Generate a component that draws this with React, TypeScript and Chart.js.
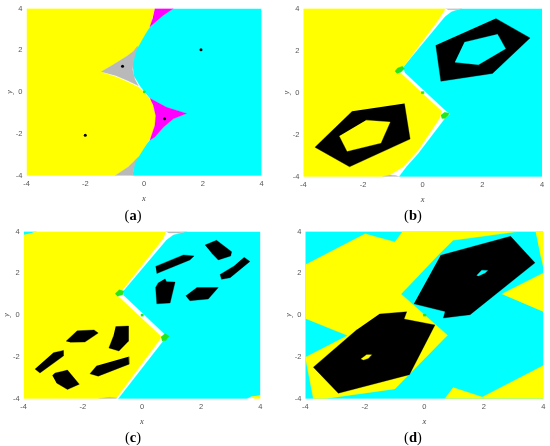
import React, { useEffect, useRef } from "react";
import { Chart, registerables } from "chart.js";

Chart.register(...registerables);

type P = [number, number];

const axisTicks = [-4, -2, 0, 2, 4];
const captions = ["a", "b", "c", "d"];
const fullSquare: P[] = [[-4, 4], [4, 4], [4, -4], [-4, -4]];

// Panel (a)
const aCyan: P[] = [[1, 4], [0.66, 3.68], [0.2, 3.13], [-0.14, 2.5], [-0.31, 1.95], [-0.39, 1.32], [-0.34, 0.77], [-0.14, 0.3], [0, 0.05], [0.2, -0.3], [0.77, -0.73], [1.45, -1.02], [1, -1.28], [0.66, -1.68], [0.37, -2.15], [0.2, -2.3], [-0.14, -2.86], [-0.31, -3.25], [-0.39, -4], [4, -4], [4, 4]];
const aYellow: P[] = [[-4, 4], [0.37, 4], [0.2, 3.13], [0.03, 2.74], [-0.19, 2.19], [-0.36, 1.95], [-0.59, 1.71], [-1.04, 1.32], [-1.46, 0.97], [-0.93, 0.72], [-0.53, 0.47], [-0.19, 0.24], [0, 0], [0.26, -0.43], [0.4, -1.13], [0.37, -1.6], [0.2, -2.23], [-0.19, -3.1], [-0.53, -3.57], [-0.99, -4], [-4, -4]];
const aGrayTop: P[] = [[-1.46, 0.97], [-1.04, 1.32], [-0.59, 1.71], [-0.36, 1.95], [-0.22, 2.2], [-0.36, 1.48], [-0.39, 1.08], [-0.31, 0.61], [-0.19, 0.3], [-0.53, 0.53], [-0.93, 0.77]];
const aGrayBottom: P[] = [[-0.99, -4], [-0.53, -3.57], [-0.19, -3.1], [-0.31, -3.4], [-0.39, -4]];
const aMagentaTop: P[] = [[0.37, 4], [1, 4], [0.66, 3.68], [0.2, 3.13], [0.29, 3.5]];
const aMagentaMid: P[] = [[0.2, -0.3], [0.77, -0.73], [1.45, -1.02], [1, -1.28], [0.66, -1.68], [0.37, -2.15], [0.2, -2.3], [0.37, -1.6], [0.4, -1.13], [0.32, -0.65]];
const aGreen: P[] = [[-0.03, 0.06], [0.04, 0.06], [0.04, -0.04], [-0.03, -0.04]];
const aDots: P[] = [[-0.73, 1.24], [1.94, 2.03], [0.7, -1.27], [-2, -2.07]];

// Panel (b)
const bCyan: P[] = [[1.31, 4], [0.97, 3.84], [0.75, 3.61], [-0.65, 1.2], [-0.59, 0.94], [0.75, -0.83], [0.92, -1.02], [0.75, -1.23], [-0.15, -2.91], [-0.54, -3.53], [-0.79, -4], [4, -4], [4, 4]];
const bYellow: P[] = [[-4, 4], [0.77, 4], [0.53, 3.46], [-0.65, 1.2], [-0.89, 1], [-0.7, 0.89], [0.64, -0.89], [0.58, -1.2], [-0.15, -2.75], [-0.65, -3.53], [-1.1, -3.92], [-1.35, -4], [-4, -4]];
const bGrayTop: P[] = [[0.77, 4], [1.31, 4], [1.15, 3.94], [0.85, 3.94]];
const bGrayBottom: P[] = [[-1.35, -4], [-1.1, -3.92], [-0.9, -3.94], [-0.79, -4]];
const bGreenTop: P[] = [[-0.93, 1.02], [-0.84, 1.17], [-0.68, 1.25], [-0.61, 1.13], [-0.73, 0.97], [-0.86, 0.91]];
const bGreenBottom: P[] = [[0.61, -1.08], [0.73, -0.94], [0.88, -0.97], [0.86, -1.08], [0.75, -1.23], [0.64, -1.23]];
const bGreenCentre: P[] = [[-0.05, 0.05], [0.04, 0.05], [0.04, -0.05], [-0.05, -0.05]];
const bBlackUpper: P[] = [[2.45, 3.53], [3.6, 2.6], [2.34, 0.91], [0.61, 0.54], [0.44, 2.25]];
const bHoleUpper: P[] = [[1.4, 2.4], [2.51, 2.77], [2.78, 2.09], [1.87, 1.33], [1.08, 1.44]];
const bBlackLower: P[] = [[-0.61, -0.52], [-0.42, -2.21], [-2.45, -3.53], [-3.61, -2.6], [-2.36, -0.89]];
const bHoleLower: P[] = [[-1.9, -1.31], [-1.09, -1.4], [-1.4, -2.4], [-2.53, -2.79], [-2.79, -2.06]];

// Panel (c)
const cCyan: P[] = [[1.51, 4], [1.06, 3.83], [0.83, 3.59], [-0.61, 1.18], [-0.61, 0.94], [0.72, -0.85], [0.89, -1.09], [0.72, -1.24], [-0.8, -4], [3.54, -4], [3.7, -3.9], [4, -3.85], [4, 4]];
const cCyanCorner: P[] = [[-4, 4], [-3.56, 4], [-3.78, 3.9], [-4, 3.83]];
const cYellow: P[] = [[-3.56, 4], [0.81, 4], [0.72, 3.67], [-0.63, 1.25], [-0.88, 0.99], [-0.77, 0.86], [0.64, -1.01], [0.61, -1.16], [-0.86, -3.97], [-1.48, -4], [-4, -4], [-4, 3.83], [-3.78, 3.9]];
const cYellowCorner: P[] = [[3.67, -3.91], [4, -3.85], [4, -4], [3.8, -4]];
const cGrayTop: P[] = [[0.81, 4], [1.51, 4], [1.25, 3.93], [0.9, 3.93]];
const cGrayBottom: P[] = [[-1.48, -4], [-1.1, -3.93], [-0.85, -3.97], [-0.92, -4]];
const cGreenTop: P[] = [[-0.91, 1.02], [-0.77, 1.21], [-0.61, 1.15], [-0.65, 0.97], [-0.83, 0.9]];
const cGreenBottom: P[] = [[0.64, -1.05], [0.78, -0.88], [0.92, -1.01], [0.81, -1.21], [0.68, -1.24]];
const cGreenCentre: P[] = [[-0.04, 0.05], [0.04, 0.05], [0.04, -0.05], [-0.04, -0.05]];
const cBlack1: P[] = [[0.46, 2.33], [1.4, 2.88], [1.76, 2.83], [1.62, 2.64], [0.83, 2.18], [0.5, 1.99]];
const cBlack2: P[] = [[2.13, 3.35], [2.52, 3.58], [3.03, 3.03], [3, 2.83], [2.58, 2.64], [2.36, 2.96]];
const cBlack3: P[] = [[3.45, 2.77], [3.65, 2.57], [2.98, 1.79], [2.69, 1.71], [2.64, 1.94], [3.09, 2.33]];
const cBlack4: P[] = [[0.78, 1.74], [0.83, 1.6], [1.12, 1.58], [0.95, 0.58], [0.5, 0.54], [0.46, 1.32], [0.55, 1.55]];
const cBlack5: P[] = [[1.85, 1.32], [2.58, 1.32], [2.24, 0.77], [1.62, 0.69], [1.48, 0.93]];
const cBlack6: P[] = [[-2.57, -1.25], [-2.19, -0.75], [-1.62, -0.71], [-1.48, -0.86], [-1.93, -1.29], [-2.43, -1.3]];
const cBlack7: P[] = [[-0.89, -0.55], [-0.46, -0.52], [-0.46, -1.25], [-0.78, -1.72], [-1.12, -1.57], [-0.97, -1.02]];
const cBlack8: P[] = [[-0.46, -1.99], [-0.44, -2.35], [-1.48, -2.92], [-1.76, -2.81], [-1.53, -2.42]];
const cBlack9: P[] = [[-3, -1.8], [-2.66, -1.69], [-2.66, -1.96], [-3.45, -2.77], [-3.62, -2.58]];
const cBlack10: P[] = [[-3.03, -2.89], [-2.94, -2.77], [-2.72, -2.7], [-2.52, -2.63], [-2.12, -3.31], [-2.52, -3.56], [-2.89, -3.25]];

// Panel (d)
const dYellowMain: P[] = [[-4, 2.41], [-1.99, 3.89], [-0.99, 3.5], [-0.73, 4], [3.16, 4], [0.97, 3.58], [0.47, 2.88], [-0.78, 1.01], [0.78, -0.96], [-0.99, -3.53], [-3.34, -4], [-3.73, -4], [-4, -2.02], [-2.58, -0.98], [-4, -0.16]];
const dYellowTopRight: P[] = [[3.74, 4], [4, 4], [4, 2.33], [3.89, 2.96]];
const dYellowRight: P[] = [[2.6, 1.01], [4, 2.02], [4, 0.16]];
const dYellowBottom: P[] = [[0.69, -4], [0.97, -3.47], [1.95, -3.92], [4, -2.41], [4, -4]];
const dBlackUpper: P[] = [[0.55, 2.86], [2.9, 3.77], [3.72, 2.5], [1.54, 0.02], [0.64, -0.14], [0.7, 0.17], [-0.35, 0.54]];
const dBlackLower: P[] = [[-1.51, 0.05], [-0.59, 0.16], [-0.68, -0.19], [0.36, -0.47], [-0.5, -2.85], [-2.89, -3.74], [-3.73, -2.49], [-2.27, -0.7]];
const dHoleUpper: P[] = [[1.76, 1.9], [1.93, 2.15], [2.13, 2.13], [2.04, 2.02], [1.82, 1.87]];
const dHoleLower: P[] = [[-2.13, -2.1], [-1.94, -1.9], [-1.77, -1.9], [-1.88, -2.07], [-2.05, -2.15]];
const dGreen: P[] = [[-0.04, 0.05], [0.05, 0.05], [0.05, -0.05], [-0.04, -0.05]];

const CYAN = "#00ffff";
const YELLOW = "#ffff00";
const GRAY = "#b9b9b9";
const MAGENTA = "#ff00ff";
const GREEN = "#22e61e";
const BLACK = "#000000";

type Layer = [P[], string];

// Painted from first to last, so later layers sit on top of earlier ones.
const panelA: Layer[] = [[aCyan, CYAN], [aYellow, YELLOW], [aGrayTop, GRAY], [aGrayBottom, GRAY], [aMagentaTop, MAGENTA], [aMagentaMid, MAGENTA], [aGreen, GREEN]];
const panelB: Layer[] = [[bCyan, CYAN], [bYellow, YELLOW], [bGrayTop, GRAY], [bGrayBottom, GRAY], [bGreenTop, GREEN], [bGreenBottom, GREEN], [bGreenCentre, GREEN], [bBlackUpper, BLACK], [bHoleUpper, CYAN], [bBlackLower, BLACK], [bHoleLower, YELLOW]];
const panelC: Layer[] = [[cCyan, CYAN], [cCyanCorner, CYAN], [cYellow, YELLOW], [cYellowCorner, YELLOW], [cGrayTop, GRAY], [cGrayBottom, GRAY], [cGreenTop, GREEN], [cGreenBottom, GREEN], [cGreenCentre, GREEN], ...[cBlack1, cBlack2, cBlack3, cBlack4, cBlack5, cBlack6, cBlack7, cBlack8, cBlack9, cBlack10].map((p): Layer => [p, BLACK])];
const panelD: Layer[] = [[fullSquare, CYAN], [dYellowMain, YELLOW], [dYellowTopRight, YELLOW], [dYellowRight, YELLOW], [dYellowBottom, YELLOW], [dBlackUpper, BLACK], [dHoleUpper, CYAN], [dBlackLower, BLACK], [dHoleLower, YELLOW], [dGreen, GREEN]];

const panels = [
  { layers: panelA, dots: aDots, left: 0, top: 0, pl: 26.5, pr: 261.5, pt: 6.5, pb: 175.7, capX: 133, capY: 206.5 },
  { layers: panelB, dots: [] as P[], left: 275, top: 0, pl: 303.3, pr: 542, pt: 5, pb: 176.7, capX: 413, capY: 206.5 },
  { layers: panelC, dots: [] as P[], left: 0, top: 223, pl: 23.7, pr: 260.3, pt: 227.7, pb: 398.7, capX: 133, capY: 428.5 },
  { layers: panelD, dots: [] as P[], left: 275, top: 223, pl: 305.3, pr: 543.3, pt: 227.3, pb: 398.7, capX: 413, capY: 428.5 },
];

const CW = 275;
const CH = 223;
const AXIS_W = 22;
const AXIS_H = 28;

function Panel({ index }: { index: number }) {
  const ref = useRef<HTMLCanvasElement>(null);
  const p = panels[index];
  useEffect(() => {
    const polys = p.layers.map(([pts, color]) => ({
      data: pts.map(([x, y]) => ({ x, y })),
      showLine: true,
      fill: "shape" as const,
      backgroundColor: color,
      borderColor: color,
      borderWidth: 0.3,
      pointRadius: 0,
      tension: 0,
    }));
    const dots = {
      data: p.dots.map(([x, y]) => ({ x, y })),
      showLine: false,
      pointRadius: 1.5,
      pointBackgroundColor: BLACK,
      pointBorderWidth: 0,
    };
    const tickOpts = {
      color: "#555555",
      font: { family: "'Liberation Sans'", size: 7.5 },
      padding: 4,
      autoSkip: false,
      maxRotation: 0,
    };
    const setTicks = (s: any) => {
      s.ticks = axisTicks.map((value) => ({ value }));
    };
    const gridOpts = { display: false, drawTicks: false, tickLength: 0 };
    const chart = new Chart(ref.current!, {
      type: "scatter",
      data: { datasets: [dots, ...polys.slice().reverse()] as any },
      options: {
        animation: false,
        responsive: false,
        layout: {
          padding: {
            left: p.pl - p.left - AXIS_W,
            right: p.left + CW - p.pr,
            top: p.pt - p.top,
            bottom: p.top + CH - p.pb - AXIS_H,
          },
        },
        plugins: { legend: { display: false }, tooltip: { enabled: false }, title: { display: false } },
        scales: {
          x: {
            type: "linear",
            min: -4,
            max: 4,
            afterBuildTicks: setTicks,
            afterFit: (s: any) => {
              s.height = AXIS_H;
            },
            grid: gridOpts,
            border: { display: false },
            ticks: tickOpts,
            title: {
              display: true,
              text: "x",
              color: "#444444",
              padding: 0,
              font: { family: "'Liberation Serif'", style: "italic", size: 8.5 },
            },
          },
          y: {
            type: "linear",
            min: -4,
            max: 4,
            afterBuildTicks: setTicks,
            afterFit: (s: any) => {
              s.width = AXIS_W;
            },
            grid: gridOpts,
            border: { display: false },
            ticks: tickOpts,
            title: {
              display: true,
              text: "y",
              color: "#444444",
              padding: 0,
              font: { family: "'Liberation Serif'", style: "italic", size: 8.5 },
            },
          },
        },
      },
    } as any);
    return () => chart.destroy();
  }, []);
  return (
    <>
      <canvas
        ref={ref}
        width={CW}
        height={CH}
        style={{ position: "absolute", left: p.left, top: p.top, width: CW, height: CH, filter: "blur(0.35px)" }}
      />
      <div
        style={{
          position: "absolute",
          left: p.capX - 20,
          top: p.capY,
          width: 40,
          textAlign: "center",
          fontFamily: "'Liberation Serif'",
          fontSize: 14.5,
          lineHeight: "17px",
          color: "#000",
        }}
      >
        (<b>{captions[index]}</b>)
      </div>
    </>
  );
}

export default function App() {
  return (
    <div style={{ position: "absolute", left: 0, top: 0, width: 550, height: 446, background: "#fff", overflow: "hidden" }}>
      {panels.map((_, i) => (
        <Panel key={i} index={i} />
      ))}
    </div>
  );
}
